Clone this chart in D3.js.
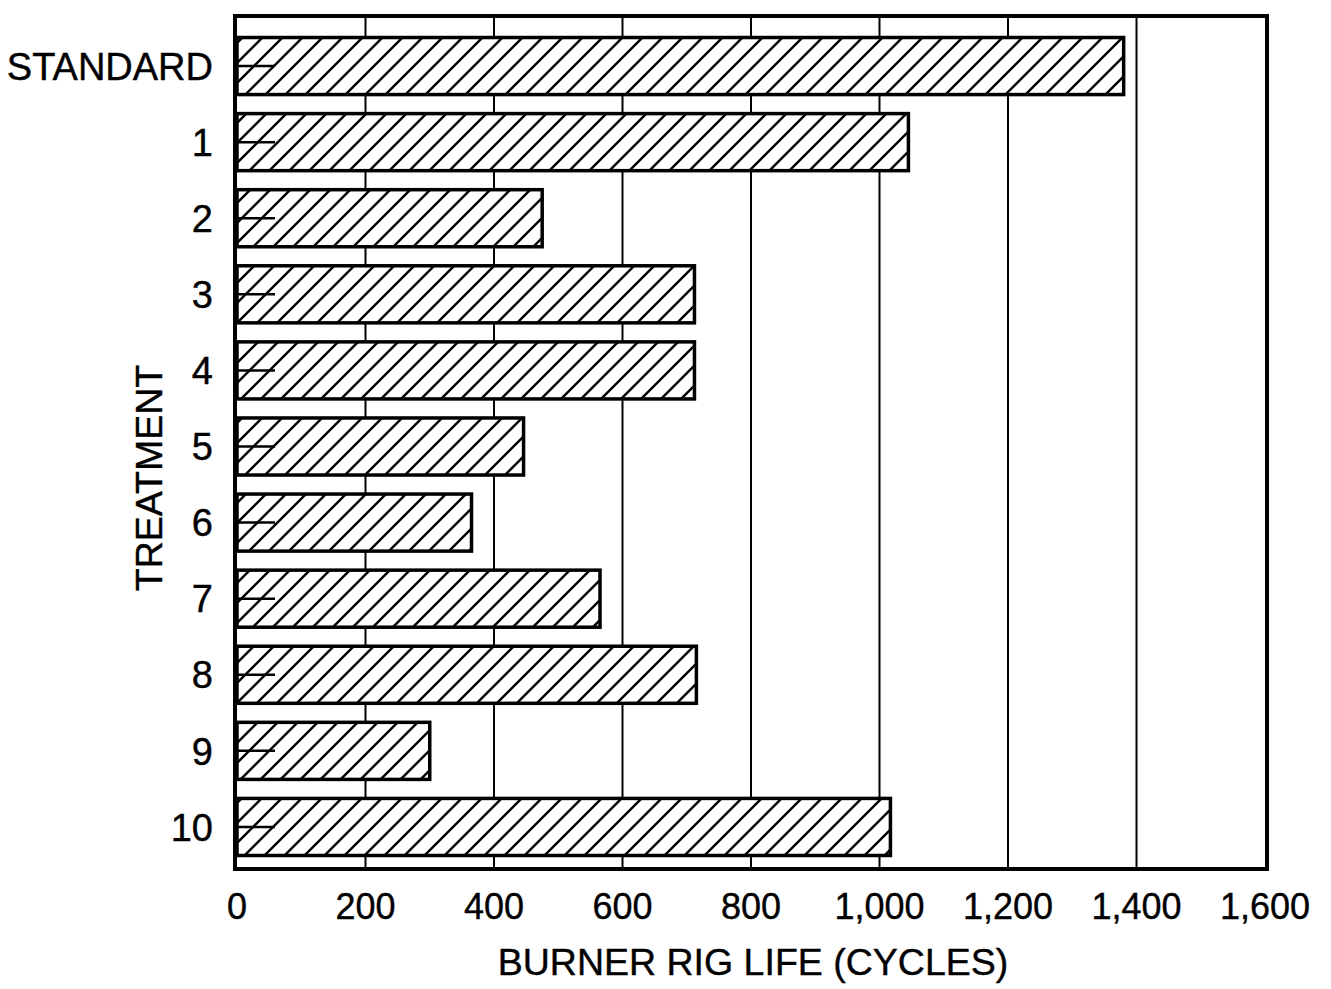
<!DOCTYPE html>
<html>
<head>
<meta charset="utf-8">
<script src="https://cdn.jsdelivr.net/npm/d3@7"></script>
<style>
  body { margin: 0; background: #fff; }
  text { font-family: "Liberation Sans", Arial, Helvetica, sans-serif; fill: #000; stroke: #000; stroke-width: 0.4px; }
</style>
</head>
<body>
<div id="chart"></div>
<script>
"use strict";

const width = 1331,
      height = 989;

// data
const treatments = ["STANDARD", "1", "2", "3", "4", "5", "6", "7", "8", "9", "10"];
const cycles = [1380, 1045, 475, 712, 712, 446, 365, 565, 715, 300, 1017];
const xTicks = [0, 200, 400, 600, 800, 1000, 1200, 1400, 1600];
const xTitle = "BURNER RIG LIFE (CYCLES)";
const yTitle = "TREATMENT";

const frame = { left: 235, right: 1267, top: 16, bottom: 869 };

const x = d3.scaleLinear()
  .domain([0, 1600])
  .range([237, 1265]);

const y = d3.scaleBand()
  .domain(treatments)
  .range([28, 865])
  .paddingInner(0.25)
  .paddingOuter(0.125);

const svg = d3.select("#chart")
  .append("svg")
  .attr("width", width)
  .attr("height", height);

const defs = svg.append("defs");
const hatch = defs.append("pattern")
  .attr("id", "hatch")
  .attr("patternUnits", "userSpaceOnUse")
  .attr("width", 20)
  .attr("height", 20);
hatch.append("rect")
  .attr("width", 20)
  .attr("height", 20)
  .attr("fill", "#fff");
hatch.append("path")
  .attr("d", "M0,20 L20,0 M-5,5 L5,-5 M15,25 L25,15")
  .attr("stroke", "#000")
  .attr("stroke-width", 2.4);

// vertical grid lines
svg.append("g")
  .selectAll("line")
  .data(xTicks.filter(d => d > 0 && d < 1600))
  .join("line")
    .attr("x1", d => x(d))
    .attr("x2", d => x(d))
    .attr("y1", frame.top)
    .attr("y2", frame.bottom)
    .attr("stroke", "#000")
    .attr("stroke-width", 2);

// bars
svg.append("g")
  .selectAll("rect")
  .data(treatments)
  .join("rect")
    .attr("x", x(0))
    .attr("y", d => y(d))
    .attr("width", (d, i) => x(cycles[i]) - x(0))
    .attr("height", y.bandwidth())
    .attr("fill", "url(#hatch)")
    .attr("stroke", "#000")
    .attr("stroke-width", 3.5);

// inward ticks on the left axis
svg.append("g")
  .selectAll("line")
  .data(treatments)
  .join("line")
    .attr("x1", frame.left)
    .attr("x2", frame.left + 40)
    .attr("y1", d => y(d) + y.bandwidth() / 2)
    .attr("y2", d => y(d) + y.bandwidth() / 2)
    .attr("stroke", "#000")
    .attr("stroke-width", 2.5);

// frame
svg.append("rect")
  .attr("x", frame.left)
  .attr("y", frame.top)
  .attr("width", frame.right - frame.left)
  .attr("height", frame.bottom - frame.top)
  .attr("fill", "none")
  .attr("stroke", "#000")
  .attr("stroke-width", 4);

// y tick labels
svg.append("g")
  .selectAll("text")
  .data(treatments)
  .join("text")
    .attr("x", 213)
    .attr("y", d => y(d) + y.bandwidth() / 2)
    .attr("dy", "0.36em")
    .attr("text-anchor", "end")
    .attr("font-size", 38)
    .text(d => d);

// x tick labels
svg.append("g")
  .selectAll("text")
  .data(xTicks)
  .join("text")
    .attr("x", d => x(d))
    .attr("y", 919)
    .attr("text-anchor", "middle")
    .attr("font-size", 36)
    .text(d => d3.format(",")(d));

svg.append("text")
  .attr("x", 753)
  .attr("y", 975)
  .attr("text-anchor", "middle")
  .attr("font-size", 37.5)
  .text(xTitle);

svg.append("text")
  .attr("transform", "translate(162,478) rotate(-90)")
  .attr("text-anchor", "middle")
  .attr("font-size", 37.5)
  .text(yTitle);
</script>
</body>
</html>
